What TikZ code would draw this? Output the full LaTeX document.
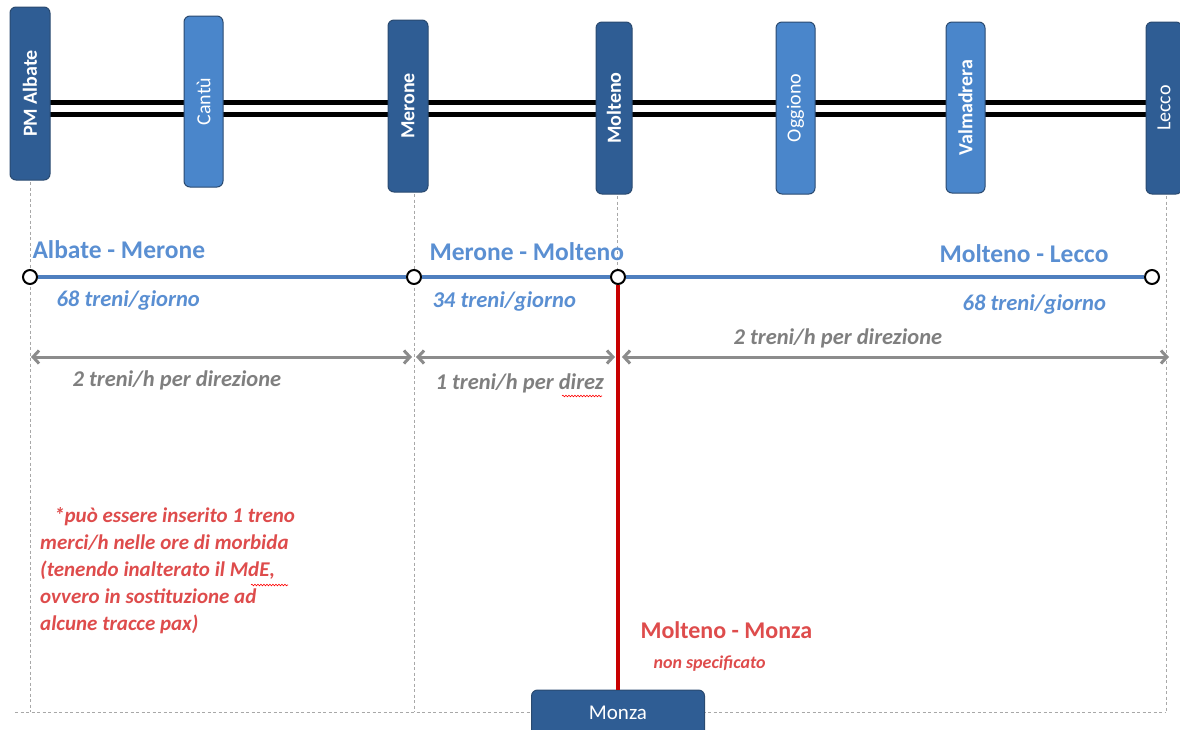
\documentclass[tikz,border=0pt]{standalone}
\usepackage{fontspec}
\setmainfont{Carlito}
\usetikzlibrary{arrows.meta,decorations.pathmorphing}
\definecolor{darkst}{HTML}{2F5D94}
\definecolor{lightst}{HTML}{4A86CB}
\definecolor{stedge}{HTML}{2A4A70}
\definecolor{segblue}{HTML}{4F7FBF}
\definecolor{segtext}{HTML}{5A8FD2}
\definecolor{grayarrow}{HTML}{8C8C8C}
\definecolor{graytext}{HTML}{7F7F7F}
\definecolor{redline}{HTML}{C80000}
\definecolor{redtext}{HTML}{DE4C4C}
\definecolor{guidegray}{HTML}{A8A8A8}
\begin{document}
\begin{tikzpicture}[x=1pt,y=-1pt,
  station/.style={rounded corners=6pt, draw=stedge, line width=1pt, rotate=90, text=white, inner sep=0pt,
    font=\fontsize{20}{20}\selectfont\bfseries},
  darkbox/.style={station, fill=darkst},
  lightbox/.style={station, fill=lightst},
  thin/.style={font=\fontsize{20}{20}\selectfont},
  rail/.style={line width=4.5pt, black},
  guide/.style={draw=guidegray, line width=0.8pt, dash pattern=on 3pt off 2.5pt},
  stop/.style={circle, draw=black, line width=2pt, fill=white, minimum size=14pt, inner sep=0pt},
  segline/.style={draw=segblue, line width=4pt},
  gline/.style={draw=grayarrow, line width=3pt, {Straight Barb[length=6pt,width=13pt]}-{Straight Barb[length=6pt,width=13pt]}},
  seghead/.style={anchor=base west, text=segtext, font=\fontsize{25.5}{25.5}\selectfont\bfseries},
  segnum/.style={anchor=base west, text=segtext, font=\fontsize{22.6}{22.6}\selectfont\bfseries\itshape},
  gtext/.style={anchor=base west, text=graytext, font=\fontsize{22.5}{22.5}\selectfont\bfseries\itshape},
  squig/.style={draw=red, line width=0.6pt, decorate, decoration={snake, amplitude=0.8pt, segment length=3pt}}
]
\useasboundingbox (0,0) rectangle (1180,729);

% rails
\draw[rail] (30,102.5) -- (1163,102.5);
\draw[rail] (30,114.5) -- (1163,114.5);

% guides
\coordinate (gA1) at (30,182);  \coordinate (gA2) at (30,712);
\coordinate (gB1) at (414,194); \coordinate (gB2) at (414,712);
\coordinate (gC1) at (617,196); \coordinate (gC2) at (617,712);
\coordinate (gD1) at (1166,196); \coordinate (gD2) at (1166,712);
\coordinate (gE1) at (15,712);
\draw[guide] (gA1) -- (gA2);
\draw[guide] (gB1) -- (gB2);
\draw[guide] (gC1) -- (gC2);
\draw[guide] (gD1) -- (gD2);
\draw[guide] (gE1) -- (gD2);

% stations
\node[darkbox, minimum width=173pt, minimum height=40pt] (albate) at (30,93.5) {PM Albate};
\node[lightbox, thin, minimum width=171pt, minimum height=39pt] (cantu) at (203.5,101.5) {Cantù};
\node[darkbox, minimum width=172pt, minimum height=40pt] (merone) at (408,106) {Merone};
\node[darkbox, minimum width=172pt, minimum height=36pt] (molteno) at (614,108) {Molteno};
\node[lightbox, thin, minimum width=172pt, minimum height=39pt] (oggiono) at (795.5,108) {Oggiono};
\node[lightbox, minimum width=171pt, minimum height=39pt] (valmadrera) at (965.5,107.5) {Valmadrera};
\node[darkbox, thin, minimum width=172pt, minimum height=36pt] (lecco) at (1164,108) {Lecco};

% Monza box
\node[rounded corners=6pt, draw=stedge, line width=1pt, fill=darkst, text=white, minimum width=173pt, minimum height=46pt,
  font=\fontsize{21}{21}\selectfont] (monza) at (618,713) {Monza};

% stops
\node[stop] (s1) at (30,277) {};
\node[stop] (s2) at (414,277) {};
\node[stop] (s3) at (618,277) {};
\node[stop] (s4) at (1152,277) {};
\draw[segline] (s1) -- (s2);
\draw[segline] (s2) -- (s3);
\draw[segline] (s3) -- (s4);
\draw[draw=redline, line width=4pt] (s3) -- (monza);

% gray arrows
\coordinate (a1) at (31,357);  \coordinate (a2) at (412,357);
\coordinate (a3) at (416,357); \coordinate (a4) at (615,357);
\coordinate (a5) at (622,357); \coordinate (a6) at (1169,357);
\draw[gline] (a1) -- (a2);
\draw[gline] (a3) -- (a4);
\draw[gline] (a5) -- (a6);

% segment labels
\node[seghead] (h1) at (29,258) {Albate - Merone};
\node[seghead] (h2) at (426,260) {Merone - Molteno};
\node[seghead] (h3) at (936,262) {Molteno - Lecco};
\node[segnum] (n1) at (53,306) {68 treni/giorno};
\node[segnum] (n2) at (429,307) {34 treni/giorno};
\node[segnum] (n3) at (959,310) {68 treni/giorno};
\node[gtext] (f1) at (69,386) {2 treni/h per direzione};
\node[gtext] (f2) at (432,389) {1 treni/h per direz};
\node[gtext] (f3) at (730,344) {2 treni/h per direzione};
\coordinate (q1) at (562,396); \coordinate (q2) at (602,396);
\draw[squig] (q1) -- (q2);

% note
\node[anchor=north west, text=redtext, align=left, inner sep=0pt,
  font=\fontsize{21}{27}\selectfont\bfseries\itshape] (note) at (40,507)
  {\hspace*{14pt}*può essere inserito 1 treno\\merci/h nelle ore di morbida\\(tenendo inalterato il MdE,\\ovvero in sostituzione ad\\alcune tracce pax)};
\coordinate (q3) at (251,585); \coordinate (q4) at (288,585);
\draw[squig] (q3) -- (q4);

% Molteno - Monza
\node[anchor=base west, text=redtext, font=\fontsize{24}{24}\selectfont\bfseries] (mm) at (637,638) {Molteno - Monza};
\node[anchor=base west, text=redtext, font=\fontsize{18}{18}\selectfont\bfseries\itshape] (ns) at (650,668) {non specificato};
\end{tikzpicture}
\end{document}
